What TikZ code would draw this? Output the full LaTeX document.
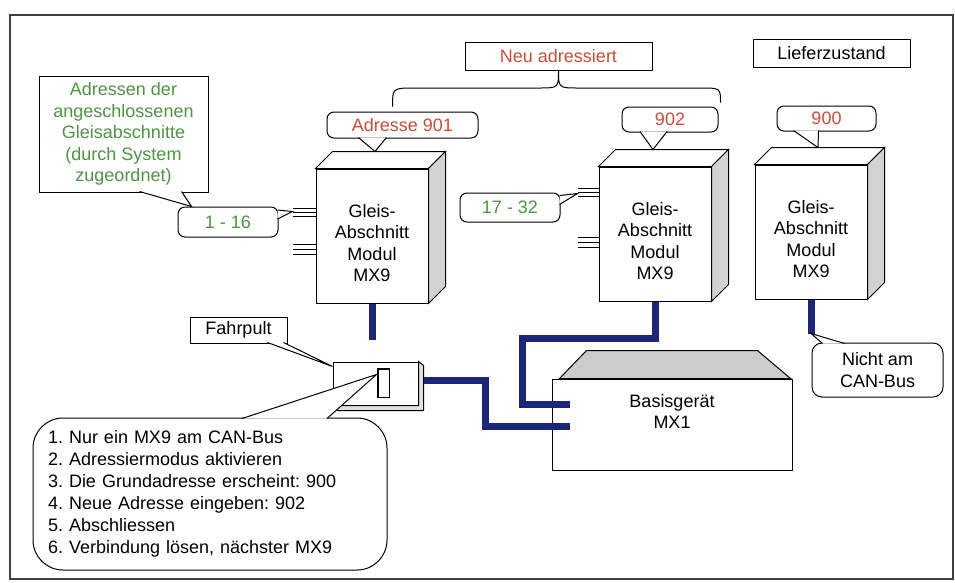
\documentclass[tikz,border=0pt]{standalone}
\usepackage{fontspec}
\setmainfont{Liberation Sans}
\frenchspacing
\usepackage{xcolor}
\usepackage{tikz}
\usetikzlibrary{positioning,calc}
\definecolor{busblue}{RGB}{28,38,120}
\definecolor{addrred}{RGB}{200,78,58}
\definecolor{secgreen}{RGB}{78,148,68}

\begin{document}
\begin{tikzpicture}[x=1pt, y=-1pt,
  every node/.style={font=\fontsize{18}{21.5}\selectfont},
  box/.style={rectangle, draw, fill=white, align=center, inner sep=2pt},
  bubble/.style={box, rounded corners=7pt},
  modul/.style={box, minimum width=112pt, minimum height=134pt,
                label={[align=center, yshift=-7pt]center:{Gleis-\\Abschnitt\\Modul\\MX9}}},
  bus/.style={line width=7pt, busblue},
  pin/.style={line width=0.8pt},
  line width=1pt
]
  \useasboundingbox (0,0) rectangle (955,582);
  \draw[line width=1.5pt, black!75] (10,15) rectangle (953,579);

  \node[modul] (m1) at (372,236) {};
  \node[modul] (m2) at (655,234) {};
  \node[modul] (m3) at (811,232) {};
  \foreach \m in {m1,m2,m3} {
    \draw[fill=white] (\m.north west) -- ++(17,-17) -- ($(\m.north east)+(17,-17)$) -- (\m.north east) -- cycle;
    \draw[fill=gray!35] (\m.north east) -- ++(17,-17) -- ($(\m.south east)+(17,-17)$) -- (\m.south east) -- cycle;
  }
  \foreach \d in {40,44,48,76,81,86} \draw[pin] ($(m1.north west)+(0,\d)$) -- ++(-23,0);
  \foreach \d in {22,26,30,71,76,81} \draw[pin] ($(m2.north west)+(0,\d)$) -- ++(-21,0);

  \node[box, minimum width=169pt, minimum height=116pt, text=secgreen] (info) at (123.5,134)
    {Adressen der\\angeschlossenen\\Gleisabschnitte\\(durch System\\zugeordnet)};
  \node[bubble, minimum width=100pt, minimum height=30pt, text=secgreen] (r1) at (228,222) {1 - 16};
  \node[bubble, minimum width=100pt, minimum height=29pt, text=secgreen] (r2) at (510,207.5) {17 - 32};
  \node[bubble, minimum width=151pt, minimum height=26pt, text=addrred] (a901) at (402.5,125) {Adresse 901};
  \node[bubble, minimum width=96pt, minimum height=25pt, text=addrred] (a902) at (670,119.5) {902};
  \node[bubble, minimum width=99pt, minimum height=25pt, text=addrred] (a900) at (826.5,118.5) {900};
  \node[box, minimum width=187pt, minimum height=28pt, text=addrred] (neu) at (558.5,56) {Neu adressiert};
  \node[box, minimum width=157pt, minimum height=28pt] (liefer) at (831.5,53) {Lieferzustand};

  \filldraw[fill=white] ($(info.south)+(16,-1)$) -- ($(r1.north west)+(14,0)$) -- ($(info.south)+(58,-1)$);
  \filldraw[fill=white] ($(r1.east)+(-1,-12)$) -- ($(m1.north west)+(-23,43)$) -- ($(r1.east)+(-1,-3)$);
  \filldraw[fill=white] ($(r2.east)+(-1,-12)$) -- ($(m2.north west)+(-21,27)$) -- ($(r2.east)+(-1,-3)$);
  \filldraw[fill=white] ($(a901.south)+(-44,-1)$) -- ($(m1.north)+(3,-17)$) -- ($(a901.south)+(-16,-1)$);
  \filldraw[fill=white] ($(a902.south)+(-30,-1)$) -- ($(m2.north)+(-2,-17)$) -- ($(a902.south)+(-3,-1)$);
  \filldraw[fill=white] ($(a900.south)+(-33,-1)$) -- ($(m3.north)+(7,-17)$) -- ($(a900.south)+(-8,-1)$);

  \coordinate (bl) at ($(a901.north)+(-10,-5)$);
  \coordinate (br) at ($(a902.north east)+(2,-4)$);
  \draw (bl) .. controls (bl |- 0,88) .. (415,88) -- (538,88)
        .. controls (neu.south |- 0,88) .. (neu.south)
        .. controls (neu.south |- 0,88) .. (579,88) -- (700,88)
        .. controls (br |- 0,88) .. (br);

  \node[box, minimum width=240pt, minimum height=91pt,
        label={[align=center, yshift=13pt]center:{Basisgerät\\MX1}}] (mx1) at (672,424.5) {};
  \draw[fill=gray!40] ($(mx1.north west)+(8,0)$) -- ++(27,-28) -- ($(mx1.north east)+(-35,-28)$)
        -- ($(mx1.north east)+(-2,0)$) -- cycle;

  \node[box, minimum width=85pt, minimum height=43pt] (fp) at (375.5,383.5) {};
  \draw[fill=gray!25] (fp.north east) -- ++(5,4) -- ($(fp.south east)+(5,5)$) -- ($(fp.south west)+(5,5)$)
        -- (fp.south west) -- (fp.south east) -- cycle;
  \node[box, minimum width=97pt, minimum height=26pt] (fplabel) at (238.5,330) {Fahrpult};
  \filldraw[fill=white] ($(fplabel.south)+(29,-1)$) -- ($(fp.north west)+(0,5)$) -- ($(fplabel.south)+(45,-1)$);

  \coordinate (m3end) at ($(m3.south)+(0,34)$);
  \draw[bus] (m1.south) -- ++(0,36);
  \draw[bus] (m2.south) |- (522,338) |- ($(mx1.west)+(18,-20)$);
  \draw[bus] ($(fp.east)+(5,-3)$) -- (485,380.5) |- ($(mx1.west)+(18,2)$);
  \draw[bus] (m3.south) -- (m3end);

  \node[bubble, rounded corners=10pt, minimum width=131pt, minimum height=54pt] (nicht) at (877.5,370)
    {Nicht am\\CAN-Bus};
  \filldraw[fill=white] ($(nicht.north)+(-55,1)$) -- (m3end) -- ($(nicht.north)+(-33,1)$);

  \node[bubble, rounded corners=30pt, text width=324pt, inner xsep=15pt, minimum height=152pt,
        align=left, font=\fontsize{18}{22}\selectfont] (steps) at (210,494)
    {1. Nur ein MX9 am CAN-Bus\\
     2. Adressiermodus aktivieren\\
     3. Die Grundadresse erscheint: 900\\
     4. Neue Adresse eingeben: 902\\
     5. Abschliessen\\
     6. Verbindung lösen, nächster MX9};
  \node[box, minimum width=11pt, minimum height=28pt, inner sep=0pt] (disp) at (383.5,383) {};
  \filldraw[fill=white] ($(steps.north)+(32,1)$) -- ($(disp.north west)+(-1,6)$) -- ($(steps.north)+(117,1)$);
  \draw (disp.north west) rectangle (disp.south east);
\end{tikzpicture}
\end{document}
